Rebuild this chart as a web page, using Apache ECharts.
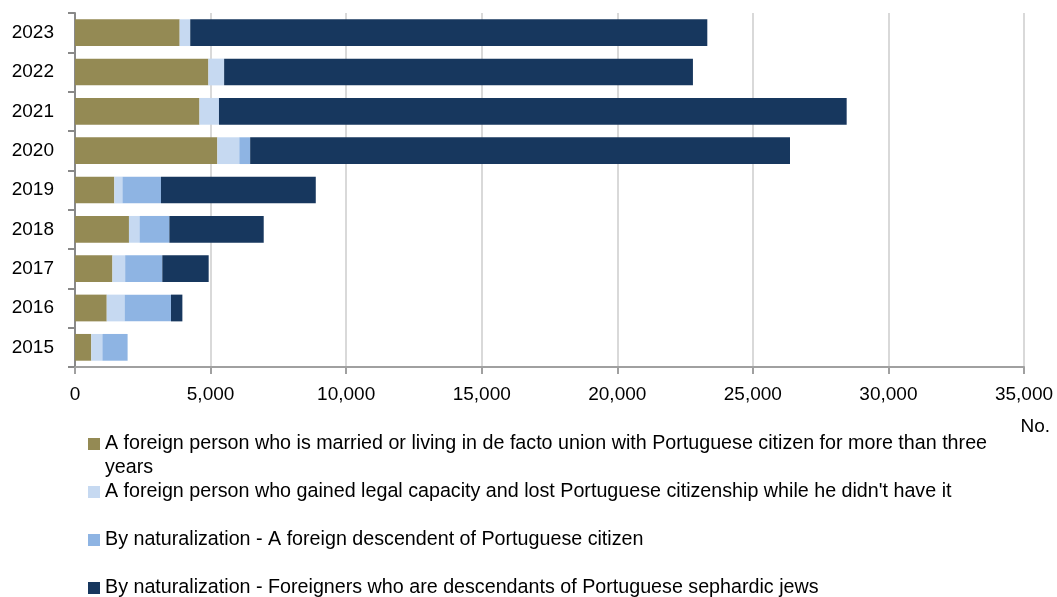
<!DOCTYPE html>
<html>
<head>
<meta charset="utf-8">
<script src="https://cdn.jsdelivr.net/npm/echarts@6/dist/echarts.min.js"></script>
<style>
html,body{margin:0;padding:0;background:#fff;}
#chart{width:1057px;height:597px;}
</style>
</head>
<body>
<div id="chart"></div>
<script>
const years = ['2015', '2016', '2017', '2018', '2019', '2020', '2021', '2022', '2023'];
const seriesNames = [
  'A foreign person who is married or living in de facto union with Portuguese citizen for more than three years',
  "A foreign person who gained legal capacity and lost Portuguese citizenship while he didn't have it",
  'By naturalization - A foreign descendent of Portuguese citizen',
  'By naturalization - Foreigners who are descendants of Portuguese sephardic jews'
];
const marriedUnion = [600, 1170, 1380, 1990, 1450, 5250, 4590, 4920, 3860];
const legalCapacity = [410, 660, 470, 390, 300, 810, 720, 580, 390];
const descendentPortuguese = [930, 1710, 1370, 1100, 1420, 400, 0, 0, 0];
const sephardicJews = [0, 420, 1710, 3480, 5710, 19910, 23150, 17290, 19070];
const xTicks = { min: 0, max: 35000, interval: 5000 };
const unitLabel = 'No.';

const colors = ['#948A54', '#C6D9F1', '#8EB4E3', '#17375E'];
const values = [marriedUnion, legalCapacity, descendentPortuguese, sephardicJews];
const FONT = 'Liberation Sans';

const chart = echarts.init(document.getElementById('chart'), null, { renderer: 'canvas' });
chart.setOption({
  animation: false,
  color: colors,
  textStyle: { fontFamily: FONT },
  title: {
    text: unitLabel, right: 7, top: 417, padding: 0,
    textStyle: { fontFamily: FONT, fontSize: 19, fontWeight: 'normal', color: '#000' }
  },
  grid: { left: 75, right: 33, top: 13, bottom: 230, containLabel: false },
  xAxis: {
    type: 'value',
    min: xTicks.min, max: xTicks.max, interval: xTicks.interval,
    axisLine: { show: true, lineStyle: { color: '#a0a0a0', width: 2 } },
    axisTick: { show: true, length: 7, lineStyle: { color: '#a0a0a0', width: 2 } },
    splitLine: { show: true, lineStyle: { color: '#d9d9d9', width: 2 } },
    axisLabel: {
      color: '#000', fontSize: 19, fontFamily: FONT, margin: 18,
      formatter: v => v.toLocaleString('en-US')
    }
  },
  yAxis: {
    type: 'category',
    data: years,
    axisLine: { show: true, lineStyle: { color: '#898989', width: 2 } },
    axisTick: { show: true, length: 7, lineStyle: { color: '#898989', width: 2 } },
    axisLabel: { color: '#000', fontSize: 19, fontFamily: FONT, margin: 21 }
  },
  legend: {
    orient: 'vertical',
    left: 88, top: 408, height: 400, padding: 0,
    itemWidth: 12, itemHeight: 12, itemGap: -24,
    icon: 'rect',
    textStyle: { color: '#000', fontSize: 19.7, fontFamily: FONT, lineHeight: 24 },
    formatter: function (name) {
      if (name === seriesNames[0]) {
        return '\nA foreign person who is married or living in de facto union with Portuguese citizen for more than three\nyears';
      }
      return '\n' + name + '\n';
    },
    data: seriesNames
  },
  series: seriesNames.map((n, i) => ({
    name: n,
    type: 'bar',
    stack: 'total',
    barCategoryGap: '32%',
    data: values[i],
    itemStyle: { color: colors[i] },
    emphasis: { disabled: true }
  }))
});
</script>
</body>
</html>
